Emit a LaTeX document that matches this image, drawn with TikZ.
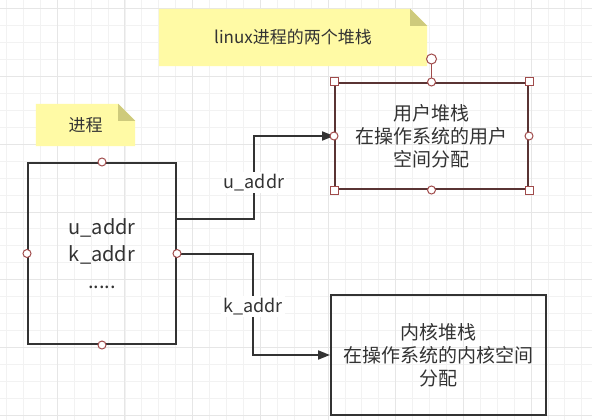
\documentclass[tikz,border=0pt]{standalone}
\usepackage{fontspec}
\setmainfont{Noto Sans CJK SC}
\usetikzlibrary{arrows.meta, backgrounds, calc}

\definecolor{txtgray}{HTML}{333333}
\definecolor{linegray}{HTML}{333333}
\definecolor{selred}{HTML}{5A3434}
\definecolor{handlered}{HTML}{A04B4B}
\definecolor{notefill}{HTML}{FFFAA5}
\definecolor{notefold}{HTML}{CECA7C}
\definecolor{minorgrid}{HTML}{F2F2F2}
\definecolor{majorgrid}{HTML}{E6E6E6}

\tikzstyle{box} = [rectangle, draw=linegray, line width=2pt, text=txtgray, inner sep=0pt, align=center, font=\fontsize{19}{23}\selectfont]
\tikzstyle{selbox} = [box, draw=selred]
\tikzstyle{note} = [rectangle, inner sep=0pt, text=txtgray, font=\fontsize{17}{20}\selectfont]
\tikzstyle{lbl} = [fill=white, text=txtgray, inner sep=2pt, font=\fontsize{18}{20}\selectfont]
\tikzstyle{arrow} = [line width=2pt, draw=linegray, -{Triangle[length=12pt,width=9pt]}]
\tikzstyle{handle} = [draw=handlered, fill=white, line width=1pt]
\tikzstyle{handleline} = [draw=handlered, line width=1pt]

\begin{document}
\begin{tikzpicture}[x=1pt, y=-1pt]
    \useasboundingbox (0,0) rectangle (592,420);

    % Nodes
    \node (lnote) [note, minimum width=268pt, minimum height=57pt] at (293,37.5) {linux进程的两个堆栈};
    \node (pnote) [note, minimum width=99pt, minimum height=42pt] at (85.5,125) {进程};
    \node (proc) [box, minimum width=148pt, minimum height=181pt, font=\fontsize{20}{27}\selectfont] at (102,253.5) {u\_addr\\k\_addr\\.....};
    \node (ustack) [selbox, minimum width=193pt, minimum height=106pt] at (431.5,136) {用户堆栈\\在操作系统的用户\\空间分配};
    \node (kstack) [box, minimum width=215pt, minimum height=120pt] at (438.5,355) {内核堆栈\\在操作系统的内核空间\\分配};

    % Grid and notes
    \begin{scope}[on background layer]
        \fill[white] (0,0) rectangle (592,420);
        \foreach \i in {0,...,34} \draw[minorgrid, line width=1pt] ({6.6+16.92*\i},0) -- ++(0,420);
        \foreach \j in {0,...,24} \draw[minorgrid, line width=1pt] (0,{9+16.92*\j}) -- ++(592,0);
        \foreach \i in {0,...,7} \draw[majorgrid, line width=1pt] ({57.3+67.68*\i},0) -- ++(0,420);
        \foreach \j in {0,...,6} \draw[majorgrid, line width=1pt] (0,{9+67.68*\j}) -- ++(592,0);
        \foreach \n in {lnote,pnote} {
            \fill[notefill] (\n.south west) -- (\n.north west) -- ([xshift=-17pt]\n.north east) -- ([yshift=-17pt]\n.north east) -- (\n.south east) -- cycle;
            \fill[notefold] ([xshift=-17pt]\n.north east) -- ([xshift=-17pt,yshift=-17pt]\n.north east) -- ([yshift=-17pt]\n.north east) -- cycle;
        }
    \end{scope}

    % Arrows
    \draw [arrow] ([yshift=35pt]proc.east) -| ($(ustack.west)+(-80,0)$) node[lbl, pos=0.72] (ulbl) {u\_addr} -- (ustack.west);
    \draw [arrow] (proc.east) -| ($(kstack.west)+(-77,0)$) node[lbl, pos=0.76] (klbl) {k\_addr} -- (kstack.west);

    % Handles
    \coordinate (rot) at ($(ustack.north)+(0,-23)$);
    \draw [handleline] (ustack.north) -- (rot);
    \draw [handle] (rot) circle (5pt);
    \foreach \a in {north,south,east,west} {
        \draw [handle] (proc.\a) circle (4pt);
        \draw [handle] (ustack.\a) circle (4pt);
    }
    \foreach \a in {north east,north west,south east,south west}
        \draw [handle] ([shift={(-4pt,-4pt)}]ustack.\a) rectangle ++(8pt,8pt);

\end{tikzpicture}
\end{document}
